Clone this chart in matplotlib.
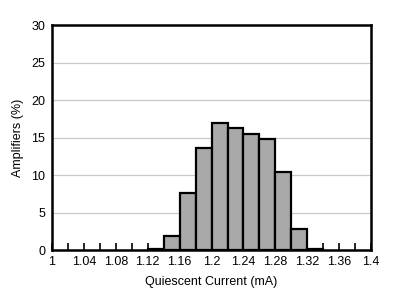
import numpy as np
import matplotlib
matplotlib.use("Agg")
import matplotlib.pyplot as plt

plt.rcParams["font.family"] = ["Liberation Sans", "DejaVu Sans"]

# Histogram bins (left edges, mA) and percent of amplifiers in each bin
bin_left = [1.12, 1.14, 1.16, 1.18, 1.20, 1.22, 1.24, 1.26, 1.28, 1.30, 1.32]
percent = [0.2, 1.9, 7.6, 13.6, 17.0, 16.3, 15.5, 14.8, 10.4, 2.8, 0.2]
bin_width = 0.02

x_labels = ["1", "1.04", "1.08", "1.12", "1.16", "1.2", "1.24", "1.28", "1.32", "1.36", "1.4"]

fig = plt.figure(figsize=(3.94, 2.98), dpi=100)
ax = fig.add_axes([0.132, 0.161, 0.810, 0.755])

ax.bar(bin_left, percent, width=bin_width, align="edge",
       color="#a9a9a9", edgecolor="black", linewidth=1.6, zorder=3)

ax.set_xlim(1.0, 1.4)
ax.set_ylim(0, 30)
ax.set_xticks(np.linspace(1.0, 1.4, len(x_labels)))
ax.set_xticklabels(x_labels)
ax.set_xticks(np.arange(1.02, 1.4, 0.04), minor=True)
ax.set_yticks(range(0, 31, 5))

ax.tick_params(axis="x", which="both", direction="in", length=5, width=1.2,
               labelsize=9, pad=4, color="black")
ax.tick_params(axis="y", length=0, labelsize=9, pad=5)

ax.grid(axis="y", color="#c8c8c8", linewidth=0.9, zorder=0)
for spine in ax.spines.values():
    spine.set_linewidth(1.8)
    spine.set_zorder(4)

ax.set_xlabel("Quiescent Current (mA)", fontsize=9, labelpad=6)
ax.set_ylabel("Amplifiers (%)", fontsize=9, labelpad=5)

fig.savefig("out.png", dpi=100)
